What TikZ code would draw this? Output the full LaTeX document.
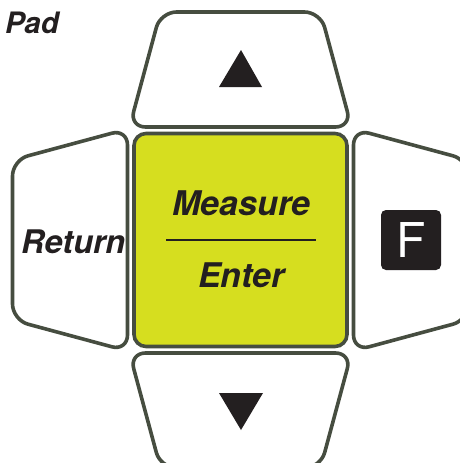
\documentclass[tikz,border=0pt]{standalone}
\usepackage{fontspec}
\setsansfont{TeX Gyre Heros}
\definecolor{keyrim}{RGB}{70,77,64}
\definecolor{keylime}{RGB}{214,222,31}
\definecolor{keyink}{RGB}{35,31,32}

\begin{document}
\begin{tikzpicture}[x=1pt,y=-1pt,
      key rim/.style ={draw=keyrim,line width=3.6pt,rounded corners=#1},
      key rim/.default=16pt,
      key text/.style={inner sep=0pt,text=keyink,
        font=\sffamily\bfseries\itshape\fontsize{#1}{#1}\selectfont},
      key text/.default=34pt]
    \useasboundingbox (0,0) rectangle (460,463);
    \clip (0,0) rectangle (460,463);
    \begin{scope}[shift={(240.5,240)}]
      \foreach \a in {0,90,180,270}
        \draw[key rim,fill=white,rotate=\a] (-80,-228) -- (80,-228) -- (111,-113) -- (-111,-113) -- cycle;
      \draw[key rim=12pt,fill=keylime] (-106.5,-106.5) rectangle (106.5,106.5);
    \end{scope}
    \fill[keyink] (219,87) -- (262,87) -- (241,50) -- cycle;
    \fill[keyink] (219,393) -- (263,393) -- (241,430) -- cycle;
    \draw[keyink,line width=2.6pt] (166,240) -- (316,240);
    \node[key text,anchor=base] (measure) at (241.5,215) {Measure};
    \node[key text,anchor=base] (enter) at (241.5,287) {Enter};
    \node[key text=32.5pt,anchor=base west] (return) at (21,253) {Return};
    \node[key text=29.5pt,anchor=base west] (pad) at (5,33) {Pad};
    \node[fill=keyink,rounded corners=5pt,minimum size=60pt,inner sep=0pt,text=white,
      font=\sffamily\fontsize{48}{48}\selectfont] (fkey) at (411,240) {F};
    \end{tikzpicture}
\end{document}
